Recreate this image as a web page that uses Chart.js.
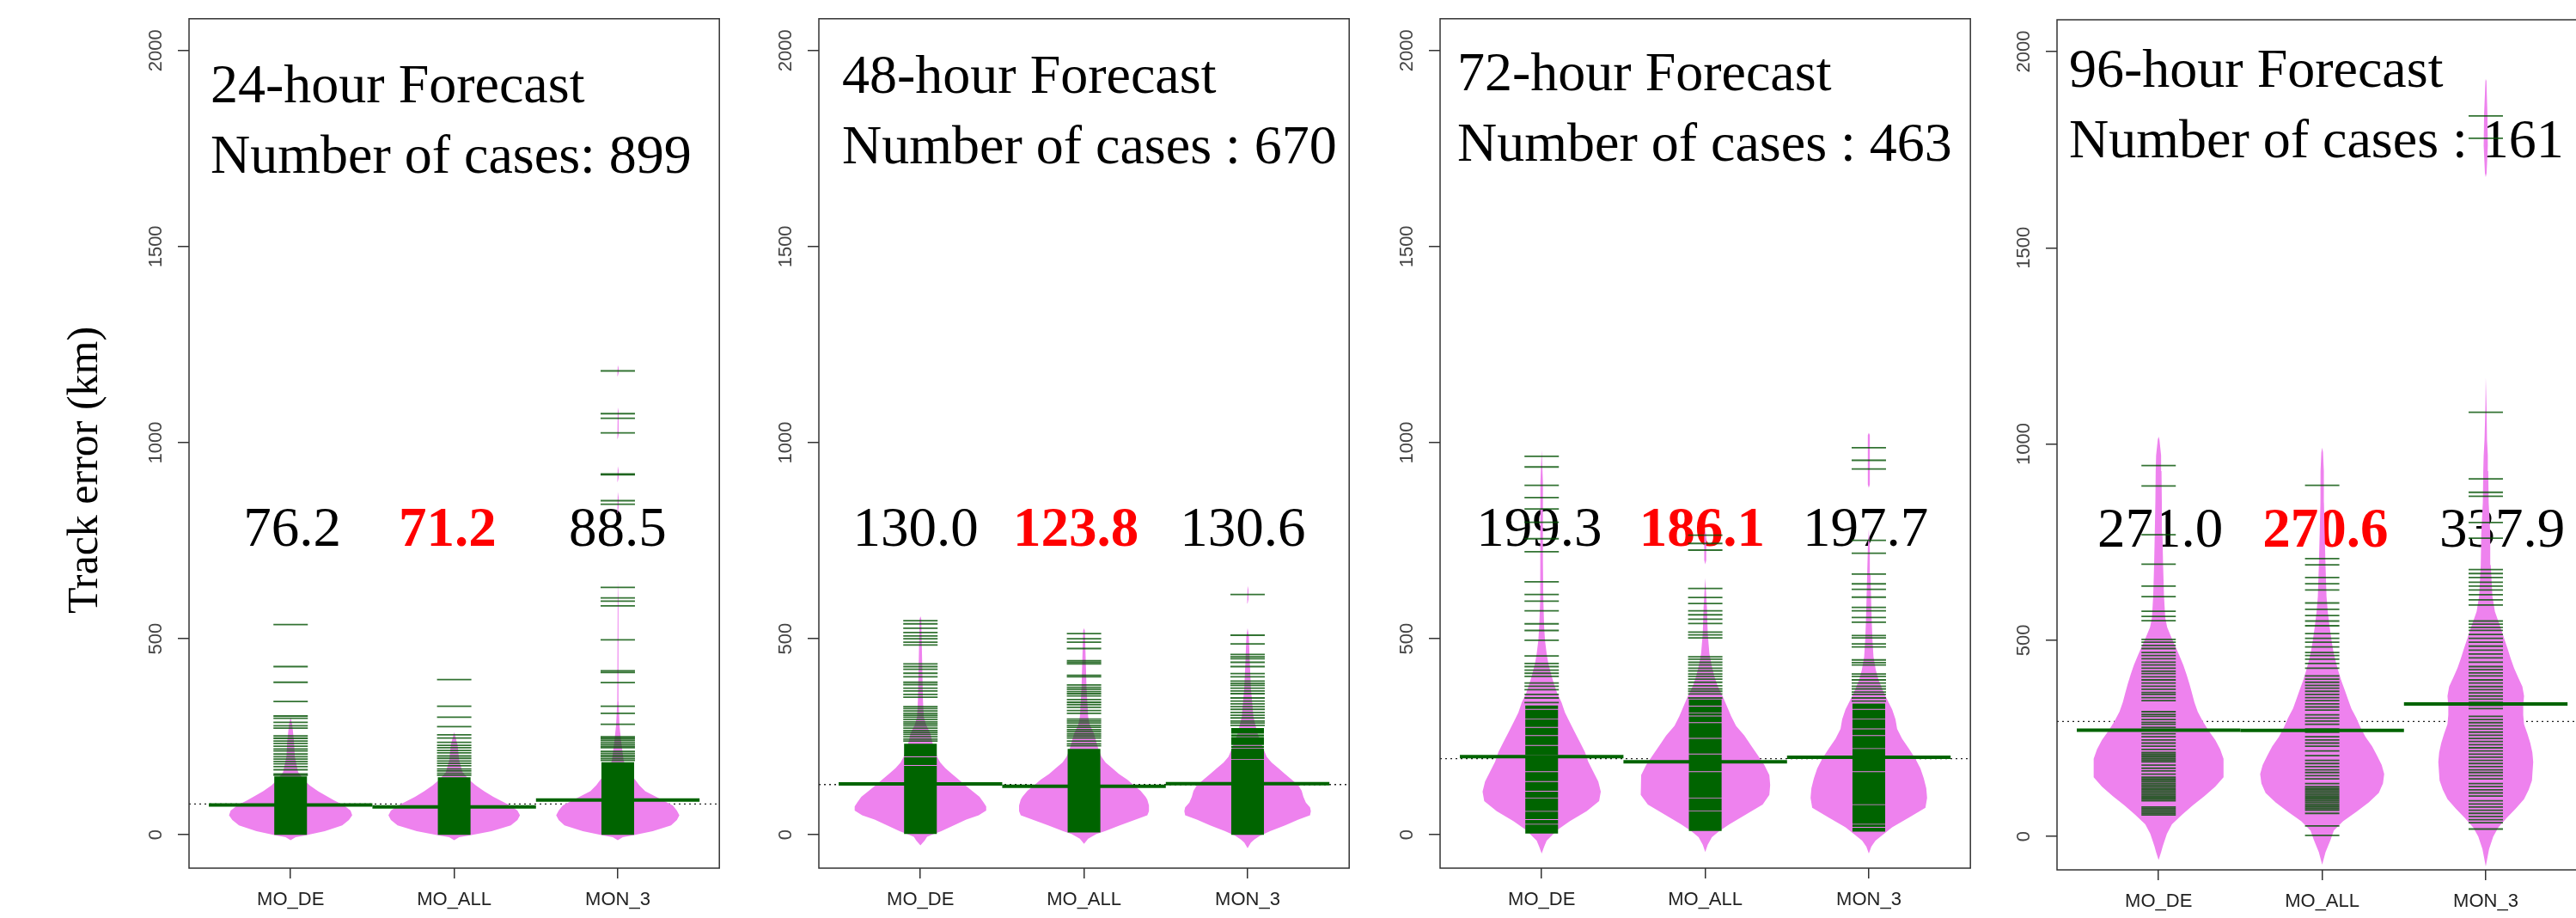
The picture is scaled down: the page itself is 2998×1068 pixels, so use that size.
<!DOCTYPE html>
<html>
<head>
<meta charset="utf-8">
<title>Track error beanplots</title>
<script src="https://cdn.jsdelivr.net/npm/chart.js@4.4.1/dist/chart.umd.min.js"></script>
<style>
  html, body { margin: 0; padding: 0; background: #ffffff; overflow: hidden; width: 2998px; height: 1068px; }
  canvas { position: absolute; top: 0; }
</style>
</head>
<body>
<canvas id="panel0"></canvas>
<canvas id="panel1"></canvas>
<canvas id="panel2"></canvas>
<canvas id="panel3"></canvas>
<script>
// ---------- data ----------
const groups = ['MO_DE', 'MO_ALL', 'MON_3'];
const leadTimes = ['24-hour Forecast', '48-hour Forecast', '72-hour Forecast', '96-hour Forecast'];
const caseCounts = ['Number of cases: 899', 'Number of cases : 670', 'Number of cases : 463', 'Number of cases : 161'];
const yTicks = [0, 500, 1000, 1500, 2000];
const yLabel = 'Track error (km)';

// mean track error (km) per group
const meanErrors24 = [76.2, 71.2, 88.5];
const meanErrors48 = [130.0, 123.8, 130.6];
const meanErrors72 = [199.3, 186.1, 197.7];
const meanErrors96 = [271.0, 270.6, 337.9];
// index of the group printed in red (lowest mean)
const bestGroup = [1, 1, 1, 1];

// bean outlines: [track error km, density] pairs (two zeros in a row end a piece)
const density24 = [
  [[-14,0],[-6,6],[-1.5,17],[9,41],[24,62],[38,70],[50,74],[62,72],[75,64],[88,52],[100,42],[111,33],[126,23],[140,16],[160,9],[200,5],[240,4],[280,2],[300,0]],
  [[-14,0],[-6,6],[-1.5,18],[9,45],[24,68],[38,76],[50,79],[62,76],[75,67],[97,47],[111,36],[126,26],[140,18],[160,10],[190,6],[230,4],[262,0]],
  [[-14,0],[-6,6],[-1.5,17],[9,42],[24,64],[38,71],[50,74],[62,71],[75,66],[97,46],[111,33],[126,26],[140,21],[160,12],[190,7],[240,4],[280,2],[340,1],[600,0.8],[650,0],[820,0],[835,1],[860,1],[875,0],[900,0],[910,1],[930,1],[940,0],[1010,0],[1020,1],[1080,1],[1090,0],[1170,0],[1178,1],[1190,1],[1198,0]]
];
const density48 = [
  [[-27,0],[-15,5],[-5,8],[2,16],[9.5,25],[24,40],[39,55],[50,70],[62,79],[72,79],[82,76],[97,71],[112,62],[126,54],[141,46],[155,38],[170,30],[184,24],[199,20],[214,18],[230,15],[258,12],[280,7],[301,4],[345,3],[447,2],[550,1],[557,0]],
  [[-23,0],[-10,5],[2,15],[9.5,25],[24,43],[39,62],[50,76],[60,78],[75,78],[90,76],[97,74],[112,68],[126,60],[141,52],[155,42],[170,34],[184,26],[199,21],[214,18],[235,15],[258,12],[280,7],[301,5],[374,3],[450,2],[520,1],[527,0]],
  [[-34,0],[-20,4],[-12,8],[-2,15],[9.5,27],[24,45],[39,61],[50,75],[60,76],[70,75],[82,70],[97,67],[112,65],[126,61],[141,53],[155,45],[170,37],[184,29],[199,23],[214,20],[235,16],[258,12],[301,7],[374,4],[447,2.5],[506,1.5],[527,0],[590,0],[600,1],[625,1],[635,0]]
];
const density72 = [
  [[-48,0],[-30,3],[-15,6],[2,14],[14,20],[35,34],[60,54],[86,69],[110,71],[136,68],[161,62],[186,56],[211,52],[236,46],[261,40],[286,34],[312,28],[337,24],[362,18.5],[387,14.5],[412,11],[437,8],[462,6],[496,4],[529,3],[600,2],[700,1.5],[900,1.5],[981,0]],
  [[-44,0],[-25,3],[-6,8],[10,17],[27,29],[52,49],[77,69],[102,77],[127,78],[152,77],[178,71],[203,63],[228,55],[253,47],[278,37],[303,31],[328,26],[353,21],[379,15],[404,11],[429,8],[462,5],[513,3],[580,2],[655,0],[690,0],[700,1.2],[765,1.2],[775,0]],
  [[-48,0],[-30,3],[-15,8],[2,18],[19,28],[44,48],[69,68],[94,70],[119,69],[144,66],[169,62],[194,56],[220,48],[245,40],[270,34],[295,32],[320,28],[345,22],[370,16.5],[395,11.7],[420,8.4],[454,5.6],[496,4.4],[538,3.6],[580,3],[663,2],[730,1.2],[780,0],[885,0],[893,1.2],[1019,1.2],[1025,0]]
];
const density96 = [
  [[-60,0],[-40,3],[-25,5],[7,10],[31,16],[55,28],[79,41],[103,55],[127,68],[151,78],[174,78],[198,78],[222,74],[246,68],[270,60],[294,53],[318,47],[342,43],[366,40],[389,37],[413,33.5],[437,29.7],[461,25],[485,20],[509,15],[533,10.3],[557,8],[612,6.5],[692,5.4],[772,4.6],[851,3.9],[931,3.5],[971,3],[1011,1],[1019,0]],
  [[-72,0],[-40,4],[-9,10],[15,14],[39,25],[63,41],[87,56],[111,68],[135,73],[159,74.5],[182,71.5],[206,66],[230,60],[254,52],[278,46],[302,41],[326,35],[350,31],[374,27],[397,23],[421,19.5],[445,16.4],[469,13.7],[493,11.7],[533,9],[573,6.7],[612,5.2],[692,4],[772,3],[851,2.1],[931,2],[979,1],[991,0]],
  [[-76,0],[-32,4],[0,9],[23,15],[47,25],[71,36],[95,46],[119,51.6],[143,55.5],[190,57],[214,56],[238,53.5],[262,50],[286,46],[310,45],[334,45],[358,46],[382,44],[405,39],[429,34],[453,30],[477,26.5],[501,22.7],[525,19],[549,15],[573,11],[612,8],[692,6],[772,5.4],[851,3.5],[931,3],[971,2.5],[1011,1.5],[1090,1],[1170,0],[1680,0],[1690,1],[1760,2.5],[1840,2],[1925,0.8],[1930,0]]
];

// runs of beanlines so dense they merge into one block: [from, to] km
const denseRuns24 = [[[0, 149]], [[0, 147]], [[0, 185]]];
const denseRuns48 = [
  [[2, 176], [178, 198], [200, 232]],
  [[6, 219]],
  [[0, 191], [193, 220], [222, 227], [229, 249], [251, 256], [258, 272]]
];
const denseRuns72 = [
  [[3, 26], [28, 38], [40, 59], [61, 93], [95, 110], [112, 135], [137, 160], [162, 202], [204, 227], [229, 252], [254, 273], [275, 294], [296, 319], [321, 330]],
  [[10, 60], [62, 93], [95, 160], [162, 205], [207, 245], [247, 285], [287, 302], [304, 310], [312, 327], [329, 345]],
  [[8, 18], [20, 26], [28, 76], [78, 160], [162, 219], [221, 252], [254, 269], [271, 294], [296, 319], [321, 335]]
];
const denseRuns96 = [[], [], []];

// individual beanlines (km)
const beanLines24 = [
  [536, 429, 389, 340, 303, 297, 287, 278, 272, 252, 246, 239, 233, 226, 219, 214, 206, 199, 193, 187, 181, 174, 166, 155, 152],
  [396, 328, 300, 276, 255, 247, 236, 228, 222, 215, 209, 201, 195, 188, 182, 176, 168, 163, 157, 152],
  [1183, 1074, 1062, 1025, 920, 918, 852, 843, 631, 604, 596, 584, 497, 418, 414, 388, 328, 310, 282, 250, 246, 241, 236, 231, 226, 222, 213, 208, 203, 199, 194, 190]
];
const beanLines48 = [
  [546, 538, 527, 516, 507, 500, 491, 484, 436, 429, 422, 412, 403, 389, 383, 374, 367, 358, 351, 327, 322, 316, 310, 305, 300, 294, 288, 283, 278, 272, 266, 261, 256, 250, 244, 239],
  [513, 500, 491, 475, 444, 440, 436, 407, 403, 382, 376, 371, 365, 360, 354, 345, 338, 332, 325, 317, 310, 295, 290, 285, 279, 274, 268, 263, 257, 252, 247, 239, 232, 227],
  [613, 509, 487, 460, 454, 449, 440, 429, 411, 403, 392, 386, 381, 374, 367, 360, 349, 341, 334, 327, 320, 312, 305, 298, 290, 285, 279]
];
const beanLines72 = [
  [965, 938, 891, 860, 831, 797, 755, 722, 645, 613, 596, 571, 538, 521, 496, 456, 437, 429, 420, 412, 404, 387, 379, 370, 358, 349, 337],
  [764, 743, 726, 628, 605, 590, 571, 561, 550, 539, 517, 510, 502, 454, 448, 440, 433, 425, 418, 410, 404, 397, 389, 380, 372, 366, 359, 349],
  [987, 955, 933, 751, 718, 665, 640, 626, 606, 580, 571, 554, 542, 508, 502, 487, 479, 446, 439, 433, 410, 404, 395, 387, 379, 372, 364, 358, 349, 341]
];
const beanLines96 = [
  [945, 893, 769, 694, 638, 611, 574, 561, 550, 502, 495, 487, 479, 469, 461, 453, 444, 437, 429, 421, 415, 407, 399, 391, 383, 375, 367, 362, 354, 346, 318, 311, 306, 298, 291, 286, 278, 262, 254, 246, 238, 230, 222, 214, 210, 206, 202, 198, 194, 190, 182, 174, 167, 159, 151, 147, 143, 139, 135, 131, 127, 123, 119, 115, 111, 107, 103, 99, 95, 91, 75, 71, 67, 63, 59, 55],
  [895, 708, 692, 660, 644, 628, 595, 579, 563, 549, 537, 517, 505, 495, 483, 469, 461, 452, 441, 429, 409, 401, 393, 385, 378, 370, 362, 354, 346, 338, 330, 322, 310, 302, 294, 286, 274, 266, 254, 246, 238, 230, 218, 206, 194, 186, 178, 170, 163, 155, 147, 135, 127, 123, 119, 115, 111, 107, 103, 99, 95, 91, 87, 83, 79, 75, 71, 67, 59, 27, 3],
  [1836, 1779, 1081, 911, 877, 867, 800, 760, 680, 670, 660, 648, 638, 628, 616, 603, 590, 549, 541, 533, 525, 515, 505, 495, 485, 475, 465, 455, 444, 433, 425, 417, 409, 399, 391, 382, 374, 366, 358, 350, 342, 334, 326, 306, 298, 290, 282, 274, 266, 258, 250, 242, 234, 226, 218, 210, 202, 194, 186, 178, 170, 163, 155, 147, 135, 127, 119, 111, 103, 91, 83, 75, 67, 59, 51, 43, 35, 19]
];

// ---------- layout & style ----------
const PAGE_H = 1068;
const BOXES = [[220, 857, 20, 1010], [953, 1590, 20, 1010], [1676, 2313, 20, 1010], [2394, 3031, 23, 1012]];
const AXIS_MARGIN = [220, 100, 100, 100];
const X_RANGE = [0.379, 3.621];
const Y_RANGE = [-85, 2081];
const TITLE_OFFSET = [[25, 97], [27, 86], [20, 83.5], [14, 78]];
const TITLE_LINE_GAP = 82;
const LABEL_X = [[1.01, 1.96, 3.0], [0.97, 1.95, 2.97], [0.985, 1.98, 2.98], [1.01, 2.02, 3.1]];
const LABEL_Y = 738;
const Y_TITLE_X = 100;
const Y_TITLE_VALUE = 930;
const BEAN_SCALE = 1 / 196.5;     // density -> x-axis units
const LINE_HALF = 0.1;            // half length of a beanline, x-axis units
const BEAN_COLOR = '#ee82ee';
const LINE_COLOR = 'rgba(0,80,0,0.8)';
const SOLID_GREEN = '#006400';
const SERIF = '"Liberation Serif", "Times New Roman", serif';
const SANS = '"Liberation Sans", Arial, sans-serif';

const panels = [
  { title: leadTimes[0], cases: caseCounts[0], means: meanErrors24, density: density24, runs: denseRuns24, lines: beanLines24 },
  { title: leadTimes[1], cases: caseCounts[1], means: meanErrors48, density: density48, runs: denseRuns48, lines: beanLines48 },
  { title: leadTimes[2], cases: caseCounts[2], means: meanErrors72, density: density72, runs: denseRuns72, lines: beanLines72 },
  { title: leadTimes[3], cases: caseCounts[3], means: meanErrors96, density: density96, runs: denseRuns96, lines: beanLines96 }
];

// split a profile where the density stays at zero, so empty stretches draw nothing
function profilePieces(profile) {
  const pieces = [];
  let cur = [];
  profile.forEach((pt, k) => {
    cur.push(pt);
    const next = profile[k + 1];
    if (pt[1] === 0 && next && next[1] === 0 && cur.length > 1) {
      pieces.push(cur);
      cur = [];
    } else if (pt[1] === 0 && next && next[1] === 0) {
      cur = [];
    }
  });
  if (cur.length > 1) pieces.push(cur);
  return pieces;
}

// mirrored outline of one bean piece around its group position
function beanOutline(pos, profile) {
  const right = profile.map(([v, d]) => ({ x: pos + d * BEAN_SCALE, y: v }));
  const left = profile.slice().reverse().map(([v, d]) => ({ x: pos - d * BEAN_SCALE, y: v }));
  return right.concat(left);
}

function runRect(pos, lo, hi) {
  return [
    { x: pos - LINE_HALF, y: lo }, { x: pos + LINE_HALF, y: lo },
    { x: pos + LINE_HALF, y: hi }, { x: pos - LINE_HALF, y: hi }
  ];
}

const polygonStyle = (color, order) => ({
  showLine: true, fill: 'shape', backgroundColor: color, borderColor: 'rgba(0,0,0,0)',
  borderWidth: 0, pointRadius: 0, tension: 0, order
});

panels.forEach((p, i) => {
  const [bl, br, bt, bb] = BOXES[i];
  const margin = AXIS_MARGIN[i];
  const canvas = document.getElementById('panel' + i);
  canvas.width = margin + (br - bl) + 2;
  canvas.height = PAGE_H;
  canvas.style.left = (bl - margin) + 'px';

  const datasets = [];
  const overall = p.means.reduce((a, b) => a + b, 0) / p.means.length;

  // overall mean, dotted, beneath the beans
  datasets.push({
    data: [{ x: X_RANGE[0], y: overall }, { x: X_RANGE[1], y: overall }],
    showLine: true, borderColor: '#222', borderWidth: 1.3, borderDash: [2, 4],
    pointRadius: 0, order: 10
  });

  p.density.forEach((prof, g) => {
    profilePieces(prof).forEach(piece => {
      datasets.push(Object.assign({ data: beanOutline(g + 1, piece) }, polygonStyle(BEAN_COLOR, 8)));
    });
  });

  p.runs.forEach((runs, g) => {
    runs.forEach(([lo, hi]) => {
      datasets.push(Object.assign({ data: runRect(g + 1, lo, hi) }, polygonStyle(SOLID_GREEN, 6)));
    });
  });

  p.lines.forEach((vals, g) => {
    datasets.push({
      data: vals.map(v => ({ x: g + 1, y: v })),
      showLine: false, pointStyle: 'line', pointRadius: 20,
      pointBorderWidth: 1.8, pointBorderColor: LINE_COLOR, order: 4
    });
  });

  // group means, one segment per bean
  p.means.forEach((v, g) => {
    datasets.push({
      data: [{ x: g + 0.5, y: v }, { x: g + 1.5, y: v }],
      showLine: true, borderColor: SOLID_GREEN, borderWidth: 4, pointRadius: 0, order: 1
    });
  });

  const textPlugin = {
    id: 'panelText' + i,
    beforeDatasetsDraw(chart) {
      const { ctx, chartArea: a, scales: { x, y } } = chart;
      ctx.save();
      ctx.fillStyle = '#000';
      ctx.textAlign = 'left';
      ctx.textBaseline = 'alphabetic';
      ctx.font = '64px ' + SERIF;
      const tx = a.left + TITLE_OFFSET[i][0];
      const ty = a.top + TITLE_OFFSET[i][1];
      ctx.fillText(p.title, tx, ty);
      ctx.fillText(p.cases, tx, ty + TITLE_LINE_GAP);

      ctx.textAlign = 'center';
      p.means.forEach((v, g) => {
        const best = g === bestGroup[i];
        ctx.font = (best ? 'bold ' : '') + '65px ' + SERIF;
        ctx.fillStyle = best ? '#ff0000' : '#000';
        ctx.fillText(v.toFixed(1), x.getPixelForValue(LABEL_X[i][g]), y.getPixelForValue(LABEL_Y));
      });

      if (i === 0) {
        ctx.save();
        ctx.translate(Y_TITLE_X, y.getPixelForValue(Y_TITLE_VALUE));
        ctx.rotate(-Math.PI / 2);
        ctx.font = '50px ' + SERIF;
        ctx.fillStyle = '#000';
        ctx.textAlign = 'center';
        ctx.textBaseline = 'middle';
        ctx.fillText(yLabel, 0, 0);
        ctx.restore();
      }
      ctx.restore();
    },
    afterDraw(chart) {
      const { ctx, chartArea: a } = chart;
      ctx.save();
      ctx.strokeStyle = '#333';
      ctx.lineWidth = 1.5;
      ctx.strokeRect(a.left, a.top, a.right - a.left, a.bottom - a.top);
      ctx.restore();
    }
  };

  new Chart(canvas, {
    type: 'scatter',
    data: { datasets },
    plugins: [textPlugin],
    options: {
      responsive: false,
      animation: false,
      events: [],
      layout: { padding: { left: 0, right: 2, top: bt, bottom: 0 } },
      plugins: { legend: { display: false }, tooltip: { enabled: false } },
      scales: {
        x: {
          type: 'linear', min: X_RANGE[0], max: X_RANGE[1],
          afterBuildTicks: s => { s.ticks = groups.map((_, g) => ({ value: g + 1 })); },
          afterFit: s => { s.height = PAGE_H - bb; },
          ticks: {
            callback: v => groups[Math.round(v) - 1] || '',
            font: { family: SANS, size: 22 }, color: '#222', padding: 12,
            maxRotation: 0, autoSkip: false
          },
          grid: { drawOnChartArea: false, drawTicks: true, tickLength: 12, color: '#333', lineWidth: 1.5 },
          border: { display: false }
        },
        y: {
          type: 'linear', min: Y_RANGE[0], max: Y_RANGE[1],
          afterBuildTicks: s => { s.ticks = yTicks.map(v => ({ value: v })); },
          afterFit: s => { s.width = margin; },
          ticks: {
            callback: v => String(v),
            minRotation: 90, maxRotation: 90, crossAlign: 'center',
            font: { family: SANS, size: 22 }, color: '#444', padding: 1, autoSkip: false
          },
          grid: { drawOnChartArea: false, drawTicks: true, tickLength: 13, color: '#333', lineWidth: 1.5 },
          border: { display: false }
        }
      }
    }
  });
});
</script>
</body>
</html>
